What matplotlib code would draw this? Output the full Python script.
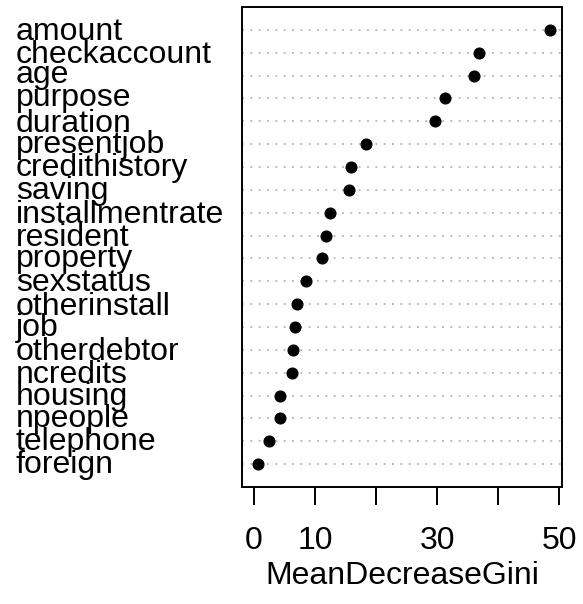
import matplotlib.pyplot as plt
from matplotlib.font_manager import FontProperties
from matplotlib.textpath import TextPath

plt.rcParams['font.family'] = 'Liberation Sans'
plt.rcParams['lines.scale_dashes'] = False

# variable importance from the random forest, most important first
variables = ["amount", "checkaccount", "age", "purpose", "duration",
             "presentjob", "credithistory", "saving", "installmentrate",
             "resident", "property", "sexstatus", "otherinstall", "job",
             "otherdebtor", "ncredits", "housing", "npeople", "telephone",
             "foreign"]
gini = [48.5, 36.8, 36.0, 31.3, 29.7, 18.3, 15.85, 15.5, 12.5, 11.8,
        11.2, 8.6, 7.1, 6.76, 6.4, 6.27, 4.36, 4.36, 2.4, 0.7]
xticks = [0, 10, 20, 30, 40, 50]
xticklabels = ["0", "10", "", "30", "", "50"]

fs = 23
fig = plt.figure(figsize=(5.83, 6.04), dpi=100)
ax = fig.add_axes([242 / 583, 1 - 487 / 604, 320 / 583, 480 / 604])

n = len(variables)
ypos = list(range(n, 0, -1))
for y in ypos:
    ax.axhline(y, color='#BEBEBE', lw=1.4, linestyle=(0, (1.4, 4.6)), zorder=1)
ax.plot(gini, ypos, 'o', color='black', markersize=7.7, zorder=3)

xmax = max(gini)
pad = 0.04 * xmax
ax.set_xlim(-pad, xmax + pad)
ax.set_ylim(0, n + 1)
ax.set_yticks([])
ax.set_xticks(xticks)
ax.set_xticklabels(xticklabels)
ax.tick_params(axis='x', length=13, width=1.4, pad=15, labelsize=fs)
for s in ax.spines.values():
    s.set_linewidth(1.4)
ax.set_xlabel("MeanDecreaseGini", fontsize=fs, labelpad=4)

# row labels, roughly centred on their ink extent
prop = FontProperties(family='Liberation Sans', size=fs)
for name, y in zip(variables, ypos):
    ext = TextPath((0, 0), name, size=fs, prop=prop).get_extents()
    mid = 0.5 * (ext.y0 + ext.y1) / 2 + 0.5 * 7.0
    ax.annotate(name, xy=(16 / 583, y), xycoords=('figure fraction', 'data'),
                xytext=(0, -mid), textcoords='offset points',
                ha='left', va='baseline', fontsize=fs, annotation_clip=False)

fig.savefig('out.png', dpi=100)
